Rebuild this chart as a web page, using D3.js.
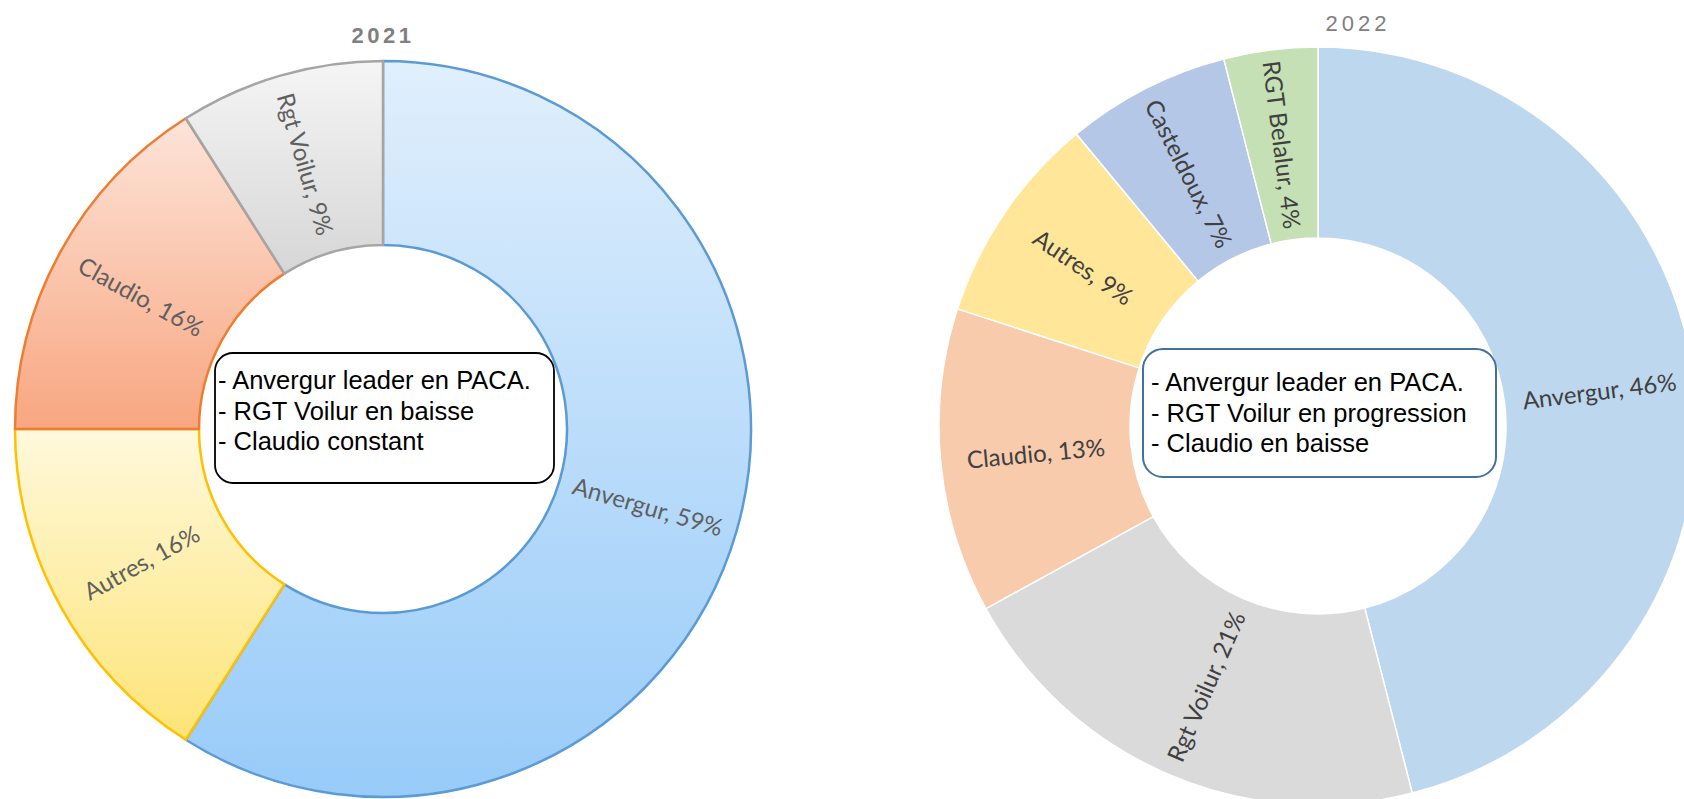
<!DOCTYPE html>
<html>
<head>
<meta charset="utf-8">
<script src="https://cdn.jsdelivr.net/npm/d3@7"></script>
<style>
  html, body { margin: 0; padding: 0; background: #ffffff; }
  svg { display: block; }
</style>
</head>
<body>
<svg id="chart" width="1684" height="799"></svg>
<script>
// ---------- data ----------
const title2021 = "2021";
const categories2021 = ["Anvergur", "Autres", "Claudio", "Rgt Voilur"];
const values2021 = [59, 16, 16, 9];
const notes2021 = ["- Anvergur leader en PACA.", "- RGT Voilur en baisse", "- Claudio constant"];

const title2022 = "2022";
const categories2022 = ["Anvergur", "Rgt Voilur", "Claudio", "Autres", "Casteldoux", "RGT Belalur"];
const values2022 = [46, 21, 13, 9, 7, 4];
const notes2022 = ["- Anvergur leader en PACA.", "- RGT Voilur en progression", "- Claudio en baisse"];

// ---------- styles ----------
const grad2021 = {
  "Anvergur":   ["#e0effc", "#98cbf9", "#5b9bd5"],
  "Autres":     ["#fff9dc", "#fde477", "#ffc000"],
  "Claudio":    ["#fde4d9", "#f8a680", "#ed7d31"],
  "Rgt Voilur": ["#f5f5f5", "#d6d6d6", "#a5a5a5"]
};
const fill2022 = {
  "Anvergur": "#bdd7ee", "Rgt Voilur": "#dadada", "Claudio": "#f8cbad",
  "Autres": "#ffe699", "Casteldoux": "#b4c7e7", "RGT Belalur": "#c5e0b4"
};

const svg = d3.select("#chart");
const defs = svg.append("defs");

function labelRotation(d) {
  let a = (d.startAngle + d.endAngle) / 2 * 180 / Math.PI - 90;
  while (a > 90) a -= 180;
  while (a <= -90) a += 180;
  return a;
}

function pieData(cats, vals) {
  return d3.pie().sort(null).value(d => d.v).startAngle(0).endAngle(2 * Math.PI)(
    cats.map((c, i) => ({ c, v: vals[i] })));
}

// ---------- 2021 donut ----------
{
  const cx = 383, cy = 429, R = 368, r = 184;
  const g = svg.append("g").attr("transform", `translate(${cx},${cy})`);
  const arc = d3.arc().innerRadius(r).outerRadius(R);
  const arcs = pieData(categories2021, values2021);

  arcs.forEach((d, i) => {
    const gr = defs.append("linearGradient").attr("id", "g21_" + i)
      .attr("x1", 0).attr("y1", 0).attr("x2", 0).attr("y2", 1);
    gr.append("stop").attr("offset", "0%").attr("stop-color", grad2021[d.data.c][0]);
    gr.append("stop").attr("offset", "100%").attr("stop-color", grad2021[d.data.c][1]);
  });

  g.selectAll("path.slice").data(arcs).join("path")
    .attr("class", "slice")
    .attr("d", arc)
    .attr("fill", (d, i) => `url(#g21_${i})`)
    .attr("stroke", d => grad2021[d.data.c][2])
    .attr("stroke-width", 2.5)
    .attr("stroke-linejoin", "round");

  g.selectAll("text.lbl").data(arcs).join("text")
    .attr("class", "lbl")
    .attr("transform", d => {
      const [x, y] = arc.centroid(d);
      return `translate(${x},${y}) rotate(${labelRotation(d)})`;
    })
    .attr("text-anchor", "middle")
    .attr("dominant-baseline", "central")
    .attr("font-family", "Lato, 'Open Sans', sans-serif")
    .attr("font-size", 24)
    .attr("fill", "#5f5f5f")
    .text(d => `${d.data.c}, ${d.data.v}%`);

  svg.append("text")
    .attr("x", cx).attr("y", 43)
    .attr("text-anchor", "middle")
    .attr("font-family", "'Liberation Sans', Arial, sans-serif")
    .attr("font-weight", "bold")
    .attr("font-size", 22)
    .attr("letter-spacing", 3.5)
    .attr("fill", "#808080")
    .text(title2021);

  // annotation box
  svg.append("rect")
    .attr("x", 215).attr("y", 353).attr("width", 339).attr("height", 130)
    .attr("rx", 18).attr("ry", 18)
    .attr("fill", "#ffffff").attr("stroke", "#000000").attr("stroke-width", 1.8);
  svg.append("g").selectAll("text").data(notes2021).join("text")
    .attr("x", 218).attr("y", (d, i) => 389 + i * 30.5)
    .attr("font-family", "'Liberation Sans', Arial, sans-serif")
    .attr("font-size", 25.5)
    .attr("fill", "#000000")
    .text(d => d);
}

// ---------- 2022 donut ----------
{
  const cx = 1318, cy = 426, R = 379, r = 188;
  const g = svg.append("g").attr("transform", `translate(${cx},${cy})`);
  const arc = d3.arc().innerRadius(r).outerRadius(R);
  const arcs = pieData(categories2022, values2022);

  g.selectAll("path.slice").data(arcs).join("path")
    .attr("class", "slice")
    .attr("d", arc)
    .attr("fill", d => fill2022[d.data.c])
    .attr("stroke", "#ffffff")
    .attr("stroke-width", 1.5);

  g.selectAll("text.lbl").data(arcs).join("text")
    .attr("class", "lbl")
    .attr("transform", d => {
      const [x, y] = arc.centroid(d);
      return `translate(${x},${y}) rotate(${labelRotation(d)})`;
    })
    .attr("text-anchor", "middle")
    .attr("dominant-baseline", "central")
    .attr("font-family", "Lato, 'Open Sans', sans-serif")
    .attr("font-size", 24)
    .attr("fill", "#404040")
    .text(d => `${d.data.c}, ${d.data.v}%`);

  svg.append("text")
    .attr("x", 1358).attr("y", 31)
    .attr("text-anchor", "middle")
    .attr("font-family", "'Liberation Sans', Arial, sans-serif")
    .attr("font-size", 22)
    .attr("letter-spacing", 4)
    .attr("fill", "#808080")
    .text(title2022);

  svg.append("rect")
    .attr("x", 1143).attr("y", 349).attr("width", 353).attr("height", 128)
    .attr("rx", 20).attr("ry", 20)
    .attr("fill", "#ffffff").attr("stroke", "#41719c").attr("stroke-width", 2);
  svg.append("g").selectAll("text").data(notes2022).join("text")
    .attr("x", 1151).attr("y", (d, i) => 391 + i * 30.5)
    .attr("font-family", "'Liberation Sans', Arial, sans-serif")
    .attr("font-size", 25.5)
    .attr("fill", "#000000")
    .text(d => d);
}
</script>
</body>
</html>
